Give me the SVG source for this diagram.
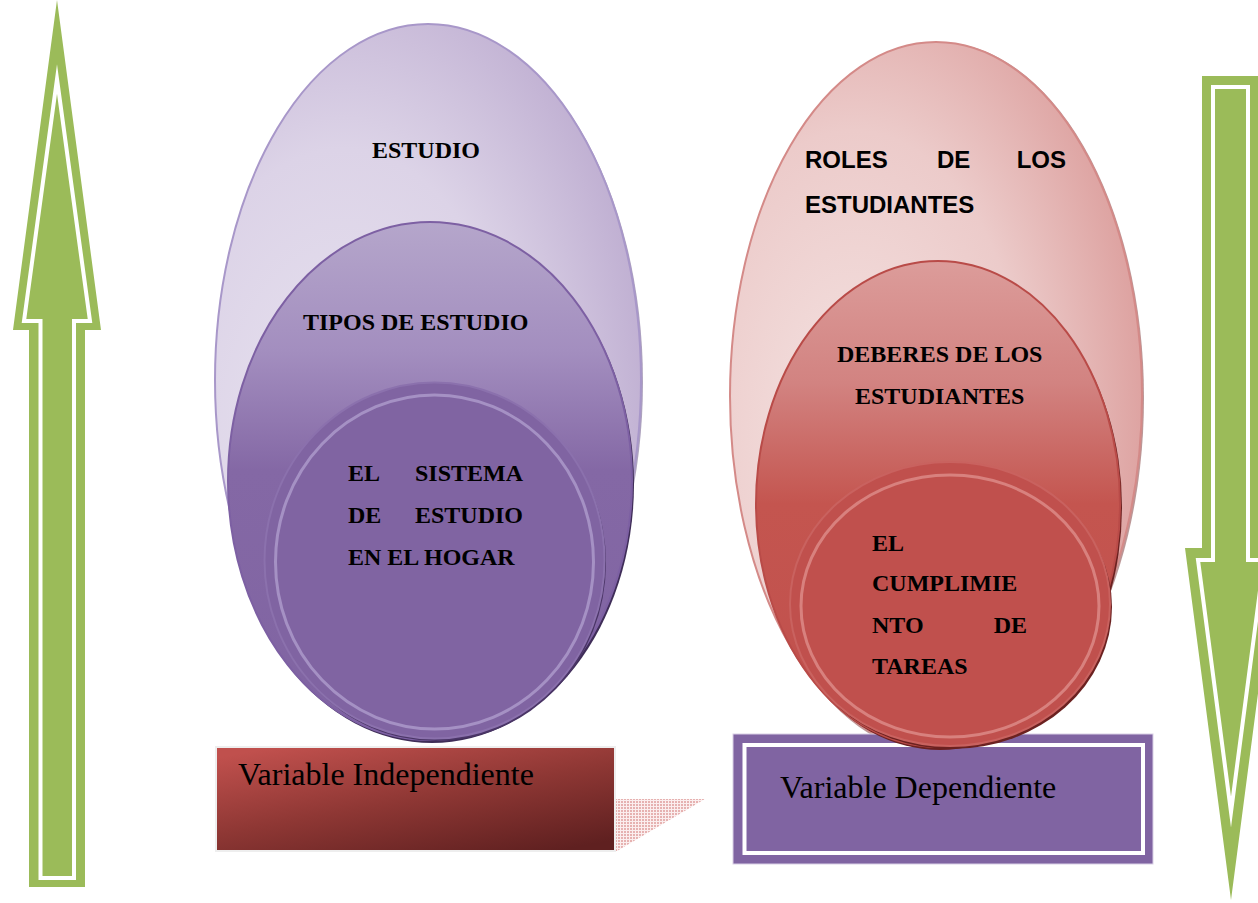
<svg xmlns="http://www.w3.org/2000/svg" width="1258" height="903" viewBox="0 0 1258 903">
<defs>
<radialGradient id="gPurOuter" cx="0.3" cy="0.6" r="0.85">
<stop offset="0" stop-color="#e8e3f0"/>
<stop offset="0.5" stop-color="#dcd3e7"/>
<stop offset="1" stop-color="#b5a2ca"/>
</radialGradient>
<linearGradient id="gPurMid" x1="0" y1="0" x2="0" y2="1">
<stop offset="0" stop-color="#b5a6cb"/>
<stop offset="0.25" stop-color="#a38ebf"/>
<stop offset="0.48" stop-color="#8468a5"/>
<stop offset="1" stop-color="#8064a2"/>
</linearGradient>
<radialGradient id="gRedOuter" cx="0.3" cy="0.55" r="0.85">
<stop offset="0" stop-color="#f4e2e1"/>
<stop offset="0.5" stop-color="#eccbca"/>
<stop offset="1" stop-color="#d68e8c"/>
</radialGradient>
<linearGradient id="gRedMid" x1="0" y1="0" x2="0" y2="1">
<stop offset="0" stop-color="#dc9c9a"/>
<stop offset="0.25" stop-color="#d28381"/>
<stop offset="0.5" stop-color="#c4554f"/>
<stop offset="1" stop-color="#c0504d"/>
</linearGradient>
<linearGradient id="gBoxRed" x1="0.15" y1="0" x2="0.85" y2="1">
<stop offset="0" stop-color="#c0504d"/>
<stop offset="0.5" stop-color="#8e3734"/>
<stop offset="1" stop-color="#5f2020"/>
</linearGradient>
<pattern id="pDots" width="3" height="3" patternUnits="userSpaceOnUse">
<rect width="3" height="3" fill="#fbeeee"/>
<rect width="2" height="2" fill="#e6b2b1"/>
</pattern>
</defs>
<style>
.arrow{fill:#9bbb59}
.arrowLine{fill:none;stroke:#ffffff;stroke-width:4;stroke-linejoin:miter;stroke-miterlimit:20}
.tb{font-family:"Liberation Serif","Times New Roman",serif;font-weight:bold;font-size:24px;fill:#000}
.sb{font-family:"Liberation Sans",Arial,sans-serif;font-weight:bold;font-size:24px;fill:#000}
.tr{font-family:"Liberation Serif","Times New Roman",serif;font-size:32px;fill:#000}
</style>
<rect width="1258" height="903" fill="#ffffff"/>

<g id="arrow-up">
<polygon class="arrow" points="57,0 101,330 85,330 85,887 29,887 29,330 13,330"/>
<polygon class="arrowLine" points="57,79 90,321 74,321 74,878 40.5,878 40.5,321 24,321"/>
</g>

<g id="arrow-down">
<polygon class="arrow" points="1202,76 1260,76 1260,548 1277,548 1231,900 1185,548 1202,548"/>
<polygon class="arrowLine" points="1213,87 1248,87 1248,560 1264,560 1231,812 1198,560 1213,560"/>
</g>

<g id="box-independiente">
<polygon points="615,799 705,799 617,851 615,851" fill="url(#pDots)"/>
<rect x="216" y="747" width="399" height="104" fill="url(#gBoxRed)" stroke="#eeeeee" stroke-width="2"/>
<text class="tr" x="238" y="785">Variable Independiente</text>
</g>

<g id="estudio">
<ellipse cx="430" cy="382" rx="213" ry="356" fill="#8a7aa3" opacity="0.7"/>
<ellipse cx="428" cy="380" rx="213" ry="356" fill="url(#gPurOuter)" stroke="#a897c9" stroke-width="2"/>
<text class="tb" x="372" y="158">ESTUDIO</text>
</g>

<g id="tipos-de-estudio">
<ellipse cx="432" cy="484" rx="202" ry="259" fill="#3f2d58"/>
<ellipse cx="430" cy="481" rx="202" ry="259" fill="url(#gPurMid)" stroke="#7d60a3" stroke-width="2"/>
<text class="tb" x="303" y="330">TIPOS DE ESTUDIO</text>
</g>

<g id="sistema-estudio">
<ellipse cx="436" cy="563" rx="170" ry="178" fill="#4a3566"/>
<ellipse cx="434.5" cy="560.5" rx="170" ry="178" fill="#8064a2" stroke="#8b71ad" stroke-width="2"/>
<ellipse cx="434.5" cy="562" rx="159" ry="167" fill="none" stroke="#a591c4" stroke-width="3"/>
<text class="tb" x="348" y="481">EL</text>
<text class="tb" x="523" y="481" text-anchor="end">SISTEMA</text>
<text class="tb" x="348" y="523">DE</text>
<text class="tb" x="523" y="523" text-anchor="end">ESTUDIO</text>
<text class="tb" x="348" y="565">EN EL HOGAR</text>
</g>

<g id="roles-estudiantes">
<ellipse cx="938" cy="398" rx="206" ry="356" fill="#a06a69" opacity="0.7"/>
<ellipse cx="936" cy="396" rx="206" ry="354" fill="url(#gRedOuter)" stroke="#d48a88" stroke-width="2"/>
<text class="sb" x="805" y="168">ROLES</text>
<text class="sb" x="937" y="168">DE</text>
<text class="sb" x="1066" y="168" text-anchor="end">LOS</text>
<text class="sb" x="805" y="213">ESTUDIANTES</text>
</g>

<g id="box-dependiente">
<rect x="733" y="734" width="420" height="130" fill="#8064a2" stroke="#d9d0e6" stroke-width="1"/>
<rect x="744.5" y="745" width="398.5" height="108" fill="none" stroke="#ffffff" stroke-width="4"/>
<text class="tr" x="780" y="798">Variable Dependiente</text>
</g>

<g id="deberes-estudiantes">
<ellipse cx="940" cy="507" rx="182" ry="243" fill="#6b2120"/>
<ellipse cx="938" cy="504" rx="182" ry="243" fill="url(#gRedMid)" stroke="#b94b48" stroke-width="2"/>
<text class="tb" x="837" y="362">DEBERES DE LOS</text>
<text class="tb" x="855" y="404">ESTUDIANTES</text>
</g>

<g id="cumplimiento-tareas">
<ellipse cx="952" cy="607" rx="160" ry="142" fill="#6b2120"/>
<ellipse cx="950" cy="604" rx="160" ry="142" fill="#c0504d" stroke="#c9625f" stroke-width="2"/>
<ellipse cx="950" cy="606" rx="149" ry="131" fill="none" stroke="#d8817e" stroke-width="3"/>
<text class="tb" x="872" y="551">EL</text>
<text class="tb" x="872" y="591">CUMPLIMIE</text>
<text class="tb" x="872" y="633">NTO</text>
<text class="tb" x="1027" y="633" text-anchor="end">DE</text>
<text class="tb" x="872" y="674">TAREAS</text>
</g>
</svg>
